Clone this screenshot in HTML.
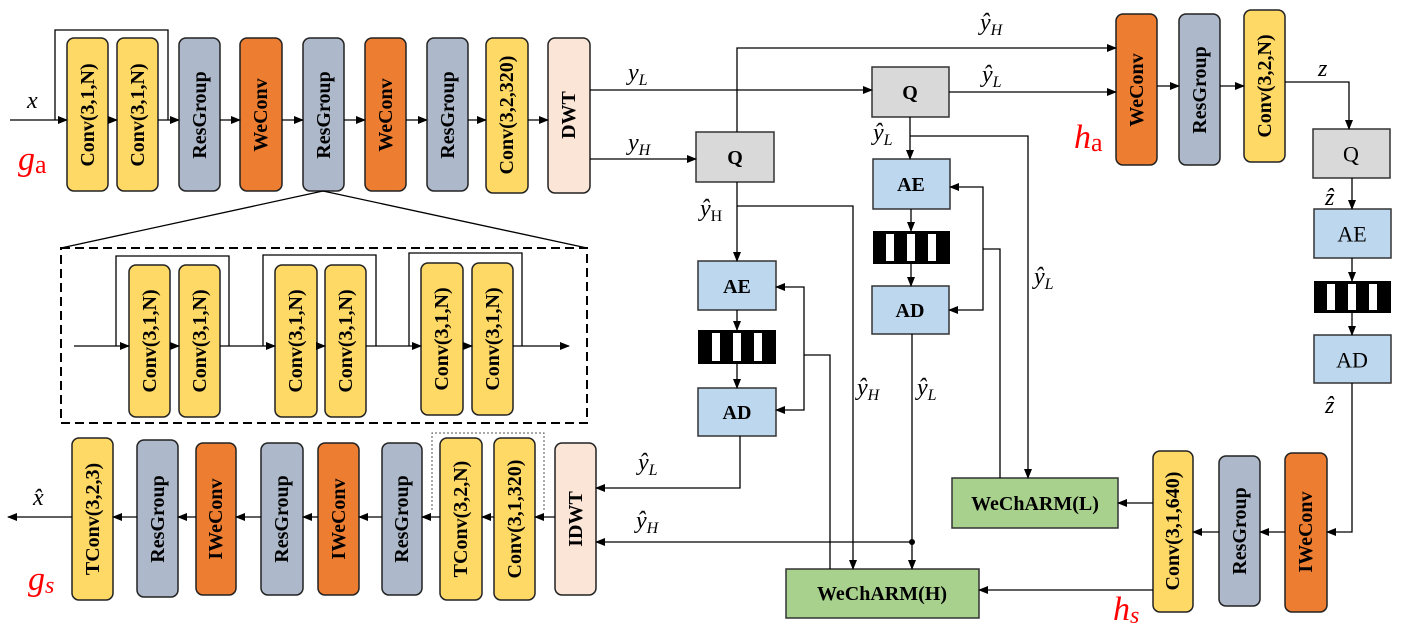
<!DOCTYPE html>
<html><head><meta charset="utf-8"><style>
html,body{margin:0;padding:0;background:#fff;}
svg{display:block;}
.bt{font-family:"Liberation Serif",serif;font-weight:bold;font-size:20px;fill:#000;}
.m{font-family:"Liberation Serif",serif;font-style:italic;font-size:24px;fill:#000;}
.r{font-family:"Liberation Serif",serif;font-style:italic;font-size:34px;fill:#f00;}
.ln{stroke:#000;stroke-width:1.3;fill:none;}
</style></head><body>
<svg width="1402" height="642" viewBox="0 0 1402 642" xmlns="http://www.w3.org/2000/svg">
<defs>
<marker id="a" markerWidth="10" markerHeight="8" refX="9" refY="4" orient="auto" markerUnits="userSpaceOnUse"><path d="M0,0 L10,4 L0,8 z" fill="#000"/></marker>
</defs>
<g stroke="#222" stroke-width="1.5">
<rect x="67" y="38" width="41" height="153" rx="7" fill="#FFD966"/>
<rect x="117" y="38" width="41" height="153" rx="7" fill="#FFD966"/>
<rect x="179" y="38" width="41" height="153" rx="7" fill="#ADB9CA"/>
<rect x="240" y="38" width="42" height="153" rx="7" fill="#ED7D31"/>
<rect x="303" y="38" width="41" height="153" rx="7" fill="#ADB9CA"/>
<rect x="365" y="38" width="41" height="153" rx="7" fill="#ED7D31"/>
<rect x="427" y="38" width="41" height="153" rx="7" fill="#ADB9CA"/>
<rect x="486" y="38" width="42" height="155" rx="7" fill="#FFD966"/>
<rect x="548" y="38" width="42" height="155" rx="7" fill="#FBE5D6"/>
<rect x="1116" y="14" width="41" height="151" rx="7" fill="#ED7D31"/>
<rect x="1179" y="14" width="41" height="151" rx="7" fill="#ADB9CA"/>
<rect x="1244" y="10" width="41" height="152" rx="7" fill="#FFD966"/>
<rect x="129" y="265" width="41" height="152" rx="7" fill="#FFD966"/>
<rect x="179" y="265" width="41" height="152" rx="7" fill="#FFD966"/>
<rect x="275" y="265" width="42" height="152" rx="7" fill="#FFD966"/>
<rect x="325" y="265" width="41" height="152" rx="7" fill="#FFD966"/>
<rect x="421" y="263" width="42" height="152" rx="7" fill="#FFD966"/>
<rect x="472" y="263" width="41" height="152" rx="7" fill="#FFD966"/>
<rect x="72" y="438" width="41" height="162" rx="7" fill="#FFD966"/>
<rect x="137" y="440" width="41" height="157" rx="7" fill="#ADB9CA"/>
<rect x="196" y="443" width="40" height="152" rx="7" fill="#ED7D31"/>
<rect x="261" y="443" width="42" height="152" rx="7" fill="#ADB9CA"/>
<rect x="318" y="443" width="41" height="152" rx="7" fill="#ED7D31"/>
<rect x="382" y="443" width="40" height="152" rx="7" fill="#ADB9CA"/>
<rect x="440" y="438" width="42" height="162" rx="7" fill="#FFD966"/>
<rect x="494" y="438" width="41" height="162" rx="7" fill="#FFD966"/>
<rect x="555" y="443" width="41" height="152" rx="7" fill="#FBE5D6"/>
<rect x="1153" y="451" width="40" height="161" rx="7" fill="#FFD966"/>
<rect x="1219" y="456" width="41" height="150" rx="7" fill="#ADB9CA"/>
<rect x="1285" y="453" width="42" height="159" rx="7" fill="#ED7D31"/>
</g>
<g stroke="#333" stroke-width="1.5">
<rect x="696" y="132" width="78" height="50" fill="#D9D9D9"/>
<rect x="872" y="67" width="77" height="50" fill="#D9D9D9"/>
<rect x="1313" y="129" width="77" height="49" fill="#D9D9D9"/>
<rect x="698" y="261" width="78" height="49" fill="#BDD7EE"/>
<rect x="698" y="388" width="78" height="48" fill="#BDD7EE"/>
<rect x="873" y="159" width="77" height="50" fill="#BDD7EE"/>
<rect x="872" y="286" width="77" height="48" fill="#BDD7EE"/>
<rect x="1314" y="209" width="77" height="49" fill="#BDD7EE"/>
<rect x="1314" y="335" width="77" height="48" fill="#BDD7EE"/>
<rect x="952" y="478" width="166" height="50" fill="#A9D18E"/>
<rect x="786" y="569" width="193" height="49" fill="#A9D18E"/>
</g>
<g>
<rect x="698" y="330" width="78" height="34" fill="#000"/>
<rect x="712" y="333" width="8" height="28" fill="#fff"/><rect x="733" y="333" width="8" height="28" fill="#fff"/><rect x="754" y="333" width="8" height="28" fill="#fff"/>
<rect x="873" y="231" width="77" height="33" fill="#000"/>
<rect x="886" y="234" width="8" height="27" fill="#fff"/><rect x="907" y="234" width="8" height="27" fill="#fff"/><rect x="928" y="234" width="8" height="27" fill="#fff"/>
<rect x="1314" y="281" width="77" height="32" fill="#000"/>
<rect x="1327" y="284" width="8" height="26" fill="#fff"/><rect x="1348" y="284" width="8" height="26" fill="#fff"/><rect x="1369" y="284" width="8" height="26" fill="#fff"/>
</g>
<rect x="61" y="248" width="526" height="175" fill="none" stroke="#000" stroke-width="2" stroke-dasharray="9,5"/>
<path d="M323,191 L61,248 M323,191 L587,248" class="ln"/>
<path d="M432,510 L432,433 L544,433 L544,510" fill="none" stroke="#555" stroke-width="1" stroke-dasharray="2,2"/>
<g class="ln" marker-end="url(#a)">
<path d="M10,120 H67"/><path d="M108,120 H117"/><path d="M158,120 H179"/><path d="M220,120 H240"/><path d="M282,120 H303"/><path d="M344,120 H365"/><path d="M406,120 H427"/><path d="M468,120 H486"/><path d="M528,120 H548"/>
<path d="M590,90 H872"/><path d="M590,159 H696"/>
<path d="M737,132 V48 H1116"/><path d="M949,92 H1116"/>
<path d="M1157,86 H1179"/><path d="M1220,86 H1244"/>
<path d="M1285,82 H1349 V129"/>
<path d="M1352,178 V209"/><path d="M1352,258 V281"/><path d="M1352,313 V335"/>
<path d="M1352,383 V532 H1327"/>
<path d="M1285,532 H1260"/><path d="M1219,532 H1193"/>
<path d="M1153,503 H1118"/><path d="M1153,590 H979"/>
<path d="M910,117 V159"/><path d="M910,136 H1028 V478"/>
<path d="M911,209 V231"/><path d="M911,264 V286"/>
<path d="M983,249 V187 H950"/><path d="M983,249 V310 H949"/>
<path d="M912,334 V569"/>
<path d="M737,182 V261"/><path d="M737,206 H853 V569"/>
<path d="M737,310 V330"/><path d="M737,364 V388"/>
<path d="M804,355 V287 H776"/><path d="M804,355 V410 H776"/>
<path d="M740,436 V488 H596"/>
<path d="M912,542 H596"/>
<path d="M555,517 H535"/><path d="M494,517 H482"/><path d="M440,517 H422"/><path d="M382,517 H359"/><path d="M318,517 H303"/><path d="M261,517 H236"/><path d="M196,517 H178"/><path d="M137,517 H113"/><path d="M72,517 H8"/>
<path d="M74,346 H129"/><path d="M170,346 H179"/><path d="M220,346 H275"/><path d="M317,346 H325"/><path d="M366,346 H421"/><path d="M463,346 H472"/><path d="M513,346 H569"/>
</g>
<g class="ln">
<path d="M55,120 V30 H168 V120"/>
<path d="M983,249 H1000 V478"/>
<path d="M804,355 H830 V569"/>
<path d="M116,346 V256 H229 V346"/><path d="M263,346 V255 H376 V346"/><path d="M409,346 V253 H522 V346"/>
</g>
<circle cx="912" cy="542" r="3" fill="#000"/>
<g class="bt" text-anchor="middle" dominant-baseline="central">
<text transform="translate(88,115) rotate(-90)">Conv(3,1,N)</text>
<text transform="translate(138,115) rotate(-90)">Conv(3,1,N)</text>
<text transform="translate(200,115) rotate(-90)">ResGroup</text>
<text transform="translate(261,115) rotate(-90)">WeConv</text>
<text transform="translate(324,115) rotate(-90)">ResGroup</text>
<text transform="translate(386,115) rotate(-90)">WeConv</text>
<text transform="translate(448,115) rotate(-90)">ResGroup</text>
<text transform="translate(507,115) rotate(-90)">Conv(3,2,320)</text>
<text transform="translate(569,115) rotate(-90)">DWT</text>
<text transform="translate(1137,90) rotate(-90)">WeConv</text>
<text transform="translate(1200,90) rotate(-90)">ResGroup</text>
<text transform="translate(1265,86) rotate(-90)">Conv(3,2,N)</text>
<text transform="translate(150,341) rotate(-90)">Conv(3,1,N)</text>
<text transform="translate(200,341) rotate(-90)">Conv(3,1,N)</text>
<text transform="translate(296,341) rotate(-90)">Conv(3,1,N)</text>
<text transform="translate(346,341) rotate(-90)">Conv(3,1,N)</text>
<text transform="translate(442,339) rotate(-90)">Conv(3,1,N)</text>
<text transform="translate(493,339) rotate(-90)">Conv(3,1,N)</text>
<text transform="translate(93,519) rotate(-90)">TConv(3,2,3)</text>
<text transform="translate(158,519) rotate(-90)">ResGroup</text>
<text transform="translate(216,519) rotate(-90)">IWeConv</text>
<text transform="translate(282,519) rotate(-90)">ResGroup</text>
<text transform="translate(339,519) rotate(-90)">IWeConv</text>
<text transform="translate(402,519) rotate(-90)">ResGroup</text>
<text transform="translate(461,519) rotate(-90)">TConv(3,2,N)</text>
<text transform="translate(515,519) rotate(-90)">Conv(3,1,320)</text>
<text transform="translate(576,519) rotate(-90)">IDWT</text>
<text transform="translate(1173,531) rotate(-90)">Conv(3,1,640)</text>
<text transform="translate(1240,531) rotate(-90)">ResGroup</text>
<text transform="translate(1306,532) rotate(-90)">IWeConv</text>
<text x="735" y="158">Q</text>
<text x="910" y="93">Q</text>
<text x="737" y="287">AE</text>
<text x="737" y="413">AD</text>
<text x="911" y="185">AE</text>
<text x="910" y="311">AD</text>
<text x="1035" y="504">WeChARM(L)</text>
<text x="882" y="594">WeChARM(H)</text>
</g>
<g font-family="Liberation Serif,serif" font-size="22" text-anchor="middle" dominant-baseline="central">
<text x="1351" y="154">Q</text><text x="1352" y="234">AE</text><text x="1352" y="360">AD</text>
</g>
<g class="m">
<text x="27" y="108">x</text>
<text x="628" y="80">y<tspan font-size="16" dy="5">L</tspan></text>
<text x="628" y="150">y<tspan font-size="16" dy="5">H</tspan></text>
<text x="980" y="30">ŷ<tspan font-size="16" dy="5">H</tspan></text>
<text x="982" y="82">ŷ<tspan font-size="16" dy="5">L</tspan></text>
<text x="1318" y="76">z</text>
<text x="873" y="140">ŷ<tspan font-size="16" dy="5">L</tspan></text>
<text x="700" y="216">ŷ<tspan font-size="16" font-style="normal" dy="5">H</tspan></text>
<text x="1034" y="284">ŷ<tspan font-size="16" dy="5">L</tspan></text>
<text x="1325" y="205">ẑ</text>
<text x="1325" y="413">ẑ</text>
<text x="857" y="395">ŷ<tspan font-size="16" dy="5">H</tspan></text>
<text x="917" y="395">ŷ<tspan font-size="16" dy="5">L</tspan></text>
<text x="638" y="470">ŷ<tspan font-size="16" dy="5">L</tspan></text>
<text x="636" y="528">ŷ<tspan font-size="16" dy="5">H</tspan></text>
<text x="33" y="505">x̂</text>
</g>
<text class="r" x="18" y="170">g<tspan font-style="normal" font-size="26" dy="3">a</tspan></text>
<text class="r" x="1074" y="148">h<tspan font-style="normal" font-size="26" dy="3">a</tspan></text>
<text class="r" x="28" y="590">g<tspan font-size="24" dy="3">s</tspan></text>
<text class="r" x="1113" y="620">h<tspan font-size="24" dy="3">s</tspan></text>
</svg>
</body></html>
